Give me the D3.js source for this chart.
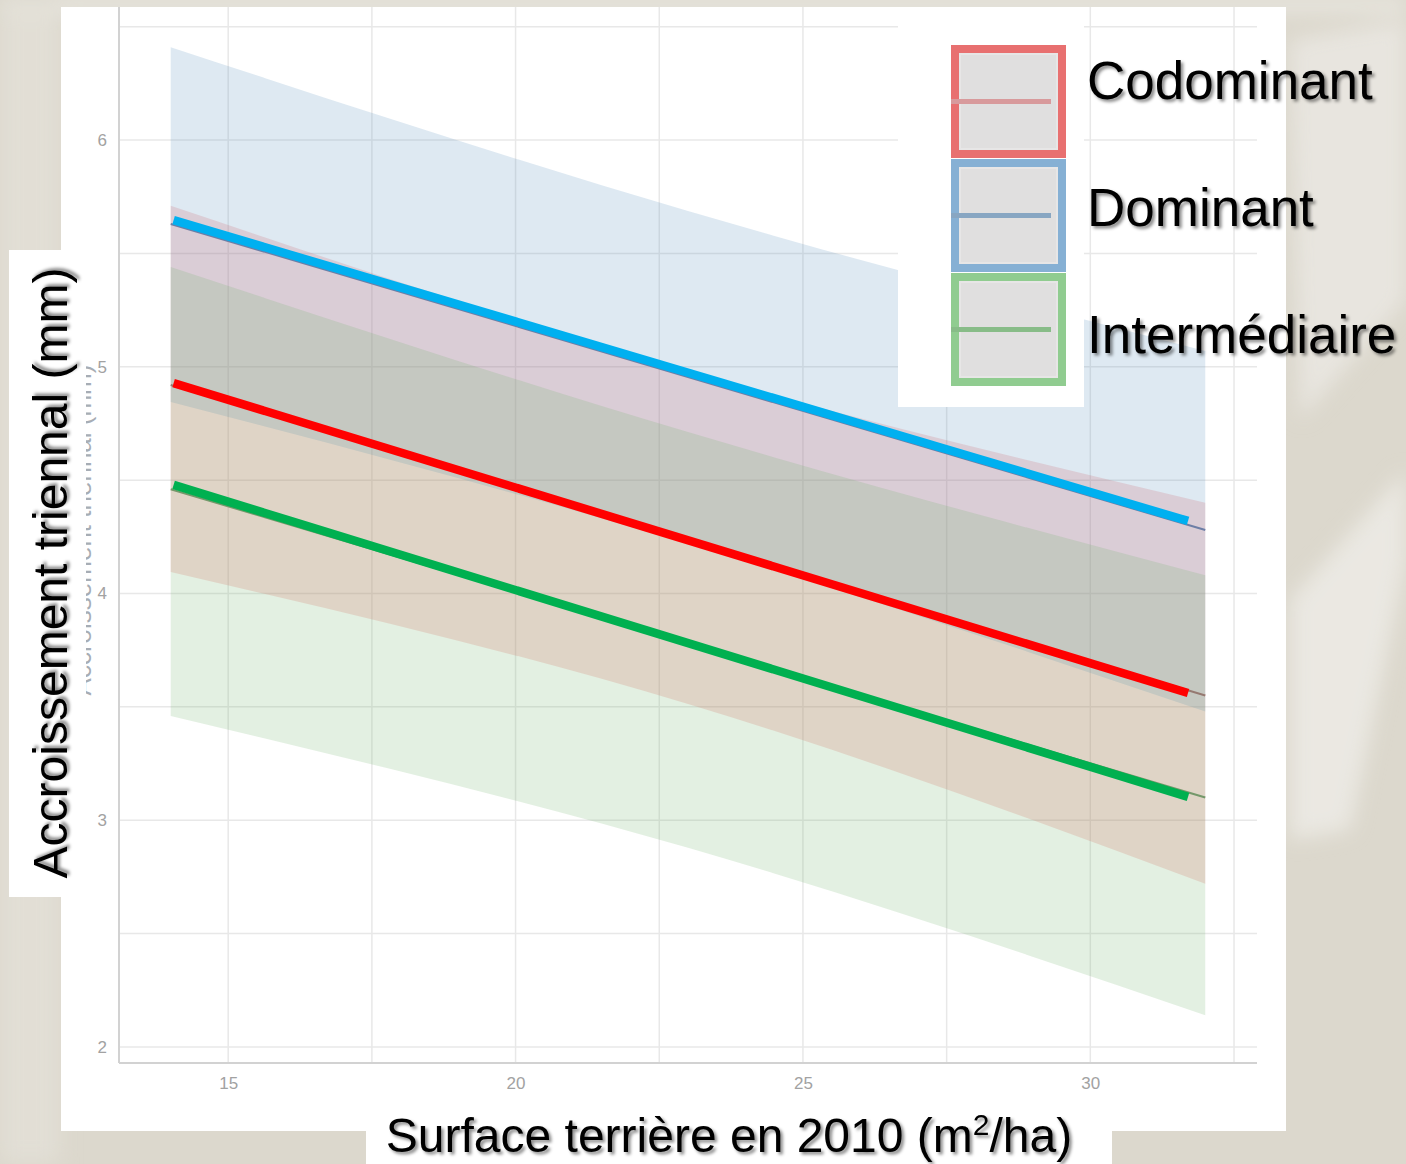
<!DOCTYPE html>
<html>
<head>
<meta charset="utf-8">
<script src="https://cdn.jsdelivr.net/npm/d3@7"></script>
<style>
  html, body { margin: 0; padding: 0; background: #dcd8cd; }
  svg { display: block; }
  text { font-family: "Liberation Sans", Arial, sans-serif; }
</style>
</head>
<body>
<svg id="chart" width="1406" height="1164"></svg>
<script>
// ---- data ----------------------------------------------------------------
const categories = ["Codominant", "Dominant", "Intermédiaire"];

// fitted values and confidence band, sampled along the basal area axis
const xValues = [14, 23, 32];
const fitCodominant   = [4.92, 4.236, 3.55];
const lowerCodominant = [4.095, 3.513, 2.72];
const upperCodominant = [5.71, 4.98, 4.40];
const fitDominant   = [5.63, 4.955, 4.28];
const lowerDominant = [4.845, 4.22, 3.48];
const upperDominant = [6.41, 5.687, 5.07];
const fitIntermediaire   = [4.46, 3.78, 3.10];
const lowerIntermediaire = [3.46, 2.878, 2.14];
const upperIntermediaire = [5.44, 4.712, 4.08];

// bold trend lines laid over the fits
const highlightX = [14.05, 31.7];
const highlightCodominant = [4.928, 3.561];
const highlightDominant = [5.647, 4.32];
const highlightIntermediaire = [4.479, 3.103];

const xTicks = [15, 20, 25, 30];
const xMinor = [17.5, 22.5, 27.5, 32.5];
const yTicks = [2, 3, 4, 5, 6];
const yMinor = [2.5, 3.5, 4.5, 5.5, 6.5];

const yTitle = "Accroissement triennal (mm)";

// ---- styling -------------------------------------------------------------
const bandFill = ["rgb(233,86,83)", "rgb(90,145,190)", "rgb(115,180,110)"];
const fitStroke = ["#b0625f", "#6d7ea6", "#74986a"];
const boldStroke = ["#ff0000", "#00b0f0", "#00b050"];
const keyStroke = ["#e87070", "#86b0d4", "#90cc90"];
const keyMid = ["#d89a9c", "#88a6c2", "#88bc88"];

const series = categories.map((name, i) => ({
  name,
  fit: [fitCodominant, fitDominant, fitIntermediaire][i],
  lower: [lowerCodominant, lowerDominant, lowerIntermediaire][i],
  upper: [upperCodominant, upperDominant, upperIntermediaire][i],
  bold: [highlightCodominant, highlightDominant, highlightIntermediaire][i]
}));

const svg = d3.select("#chart");
const W = 1406, H = 1164;

// ---- defs ----------------------------------------------------------------
const defs = svg.append("defs");
const sh = defs.append("filter").attr("id", "shadow")
  .attr("x", "-10%").attr("y", "-10%").attr("width", "120%").attr("height", "130%");
sh.append("feDropShadow").attr("dx", 2.5).attr("dy", 2.5)
  .attr("stdDeviation", 1.6).attr("flood-color", "#000").attr("flood-opacity", 0.45);
const soft = defs.append("filter").attr("id", "soft")
  .attr("x", "-50%").attr("y", "-50%").attr("width", "200%").attr("height", "200%");
soft.append("feGaussianBlur").attr("stdDeviation", 10);

// ---- backdrop ------------------------------------------------------------
svg.append("rect").attr("width", W).attr("height", H).attr("fill", "#dcd8cd");
const haze = svg.append("g").attr("filter", "url(#soft)");
haze.append("rect").attr("x", 0).attr("y", 0).attr("width", W).attr("height", 10).attr("fill", "#efeee9");
haze.append("path").attr("d", "M1290,600 L1406,470 L1406,560 L1350,830 L1290,840 Z")
  .attr("fill", "#f1f0eb").attr("opacity", 0.7);
haze.append("path").attr("d", "M1290,40 L1406,20 L1406,300 L1300,420 Z")
  .attr("fill", "#ebe9e3").attr("opacity", 0.8);
haze.append("rect").attr("x", 0).attr("y", 0).attr("width", 60).attr("height", 1164)
  .attr("fill", "#e4e1d9").attr("opacity", 0.7);

// white plot card
svg.append("rect").attr("x", 61).attr("y", 7).attr("width", 1225).attr("height", 1124).attr("fill", "#fff");

// ---- scales --------------------------------------------------------------
const x = d3.scaleLinear().domain([13.1, 32.9]).range([119, 1257]);
const y = d3.scaleLinear().domain([1.929, 6.587]).range([1063, 7]);

// grid
const grid = svg.append("g");
grid.selectAll(".gx").data(xTicks.concat(xMinor)).join("line")
  .attr("x1", d => x(d)).attr("x2", d => x(d)).attr("y1", 7).attr("y2", 1063)
  .attr("stroke", "#e8e8e8").attr("stroke-width", 1.5);
grid.selectAll(".gy").data(yTicks.concat(yMinor)).join("line")
  .attr("x1", 119).attr("x2", 1257).attr("y1", d => y(d)).attr("y2", d => y(d))
  .attr("stroke", "#e8e8e8").attr("stroke-width", 1.5);

// axes lines
svg.append("line").attr("x1", 119).attr("x2", 119).attr("y1", 7).attr("y2", 1063)
  .attr("stroke", "#d2d2d2").attr("stroke-width", 2);
svg.append("line").attr("x1", 119).attr("x2", 1257).attr("y1", 1063).attr("y2", 1063)
  .attr("stroke", "#d2d2d2").attr("stroke-width", 2);

// tick labels via d3 axes
const yAxis = d3.axisLeft(y).tickValues(yTicks).tickSize(0).tickPadding(0).tickFormat(d3.format("d"));
const gy = svg.append("g").attr("transform", "translate(107,0)").call(yAxis);
gy.select(".domain").remove();
gy.selectAll("text").attr("font-size", 17).attr("fill", "#a2a2a2")
  .attr("font-family", "Liberation Sans, Arial, sans-serif");

const xAxis = d3.axisBottom(x).tickValues(xTicks).tickSize(0).tickPadding(0).tickFormat(d3.format("d"));
const gx = svg.append("g").attr("transform", "translate(0,1077)").call(xAxis);
gx.select(".domain").remove();
gx.selectAll("text").attr("font-size", 17).attr("fill", "#a2a2a2")
  .attr("font-family", "Liberation Sans, Arial, sans-serif");

// ---- bands and fitted lines ---------------------------------------------
const band = d3.area()
  .x((d, i) => x(xValues[i]))
  .y0(d => y(d.lo)).y1(d => y(d.hi))
  .curve(d3.curveNatural);
const fitLine = d3.line().x((d, i) => x(xValues[i])).y(d => y(d)).curve(d3.curveLinear);

const marks = svg.append("g");
series.forEach((s, i) => {
  const pts = s.lower.map((lo, k) => ({ lo, hi: s.upper[k] }));
  marks.append("path").attr("d", band(pts))
    .attr("fill", bandFill[i]).attr("fill-opacity", 0.2);
  marks.append("path").attr("d", fitLine(s.fit))
    .attr("fill", "none").attr("stroke", fitStroke[i]).attr("stroke-width", 2);
});

const boldLine = d3.line().x((d, i) => x(highlightX[i])).y(d => y(d));
series.forEach((s, i) => {
  svg.append("path").attr("d", boldLine(s.bold))
    .attr("fill", "none").attr("stroke", boldStroke[i])
    .attr("stroke-width", 8.5).attr("stroke-linecap", "butt");
});

// ---- axis titles ---------------------------------------------------------
// smaller original y title, mostly hidden behind the large one
svg.append("text")
  .attr("transform", "translate(91,530) rotate(-90)")
  .attr("text-anchor", "middle").attr("font-size", 26).attr("fill", "#6d7884")
  .attr("opacity", 0.6)
  .text(yTitle);

svg.append("rect").attr("x", 9).attr("y", 250).attr("width", 77).attr("height", 647).attr("fill", "#fff");
svg.append("text")
  .attr("transform", "translate(67,573) rotate(-90)")
  .attr("text-anchor", "middle").attr("font-size", 48).attr("fill", "#000")
  .attr("filter", "url(#shadow)")
  .text(yTitle);

svg.append("rect").attr("x", 366).attr("y", 1125).attr("width", 746).attr("height", 39).attr("fill", "#fff");
const xt = svg.append("text")
  .attr("x", 729).attr("y", 1152).attr("text-anchor", "middle")
  .attr("font-size", 48).attr("fill", "#000").attr("filter", "url(#shadow)");
xt.append("tspan").text("Surface terrière en 2010 (m");
xt.append("tspan").attr("font-size", 30).attr("dy", -17).text("2");
xt.append("tspan").attr("dy", 17).text("/ha)");

// ---- legend --------------------------------------------------------------
svg.append("rect").attr("x", 898).attr("y", 7).attr("width", 186).attr("height", 400).attr("fill", "#fff");
const keyTop = [45, 159, 273];
const keyH = 113, keyX = 951, keyW = 115;
const lg = svg.append("g");
categories.forEach((name, i) => {
  const t = keyTop[i];
  lg.append("rect").attr("x", keyX + 4).attr("y", t + 4).attr("width", keyW - 8).attr("height", keyH - 8)
    .attr("fill", "#e0dfdf").attr("stroke", keyStroke[i]).attr("stroke-width", 8);
  lg.append("rect").attr("x", keyX + 9).attr("y", t + 9).attr("width", keyW - 18).attr("height", keyH - 18)
    .attr("fill", "none").attr("stroke", "#ebebeb").attr("stroke-opacity", 0.6).attr("stroke-width", 2);
  lg.append("line").attr("x1", keyX).attr("x2", keyX + 100)
    .attr("y1", t + keyH / 2).attr("y2", t + keyH / 2)
    .attr("stroke", keyMid[i]).attr("stroke-width", 5);
});
const labelBase = [99, 226, 353];
lg.selectAll(".lab").data(categories).join("text")
  .attr("x", 1087).attr("y", (d, i) => labelBase[i])
  .attr("font-size", 53).attr("fill", "#000").attr("filter", "url(#shadow)")
  .text(d => d);
</script>
</body>
</html>
